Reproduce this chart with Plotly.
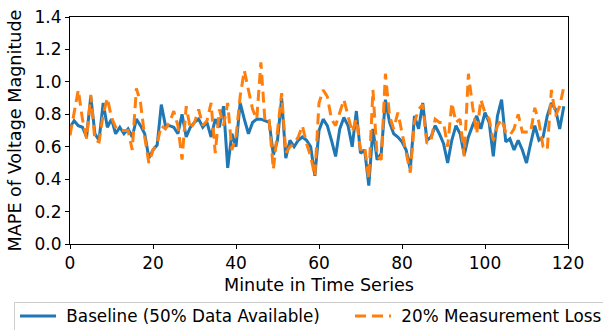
import plotly.graph_objects as go

minutes = list(range(120))

baseline = [
    0.72, 0.76, 0.73, 0.72, 0.66, 0.91, 0.68, 0.64, 0.87, 0.72,
    0.77, 0.68, 0.72, 0.68, 0.71, 0.66, 0.77, 0.73, 0.68, 0.53,
    0.58, 0.61, 0.86, 0.73, 0.73, 0.72, 0.68, 0.80, 0.66, 0.72,
    0.75, 0.77, 0.72, 0.75, 0.66, 0.77, 0.72, 0.85, 0.47, 0.68,
    0.60, 0.87, 0.77, 0.68, 0.75, 0.77, 0.77, 0.76, 0.75, 0.55,
    0.64, 0.90, 0.53, 0.64, 0.60, 0.64, 0.66, 0.64, 0.60, 0.42,
    0.70, 0.77, 0.73, 0.64, 0.54, 0.71, 0.78, 0.73, 0.60, 0.82,
    0.56, 0.58, 0.36, 0.71, 0.52, 0.56, 0.89, 0.75, 0.68, 0.66,
    0.63, 0.58, 0.46, 0.79, 0.71, 0.87, 0.64, 0.66, 0.73, 0.68,
    0.62, 0.50, 0.64, 0.73, 0.68, 0.55, 0.66, 0.73, 0.79, 0.71,
    0.81, 0.75, 0.54, 0.79, 0.89, 0.63, 0.65, 0.58, 0.64, 0.58,
    0.50, 0.62, 0.73, 0.64, 0.66, 0.79, 0.87, 0.83, 0.71, 0.85,
]

loss20 = [
    0.67, 0.80, 0.95, 0.77, 0.65, 0.92, 0.64, 0.63, 0.80, 0.90,
    0.78, 0.72, 0.70, 0.70, 0.70, 0.58, 0.96, 0.87, 0.66, 0.50,
    0.58, 0.62, 0.73, 0.71, 0.75, 0.82, 0.73, 0.52, 0.85, 0.71,
    0.75, 0.83, 0.73, 0.76, 0.87, 0.56, 0.83, 0.73, 0.87, 0.58,
    0.66, 0.91, 1.07, 0.95, 0.83, 0.77, 1.12, 0.75, 0.76, 0.46,
    0.68, 0.93, 0.56, 0.60, 0.62, 0.66, 0.73, 0.62, 0.54, 0.42,
    0.87, 0.95, 0.91, 0.77, 0.73, 0.81, 0.89, 0.79, 0.69, 0.77,
    0.58, 0.60, 0.40, 0.95, 0.54, 0.52, 1.05, 0.79, 0.71, 0.81,
    0.69, 0.58, 0.44, 0.75, 0.83, 0.86, 0.62, 0.64, 0.77, 0.75,
    0.75, 0.60, 0.87, 0.75, 0.77, 0.54, 1.05, 0.85, 0.68, 0.89,
    0.81, 0.77, 0.64, 0.73, 0.77, 0.69, 0.67, 0.71, 0.80, 0.69,
    0.69, 0.69, 0.84, 0.75, 0.60, 0.58, 0.95, 0.79, 0.85, 0.97,
]

x_ticks = [0, 20, 40, 60, 80, 100, 120]
y_ticks = [0.0, 0.2, 0.4, 0.6, 0.8, 1.0, 1.2, 1.4]

font_family = "DejaVu Sans"
W, H = 603, 330
ML, MR, MT, MB = 70, 35, 17, 86
PW = W - ML - MR
PH = H - MT - MB


def px_to_paper_x(px):
    return (px - ML) / PW


def px_to_paper_y(py):
    return (H - MB - py) / PH


fig = go.Figure()
fig.add_trace(go.Scatter(
    x=minutes, y=baseline, mode="lines",
    name="\u00a0Baseline (50% Data Available)",
    line=dict(color="#1f77b4", width=3),
    legend="legend",
))
fig.add_trace(go.Scatter(
    x=minutes, y=loss20, mode="lines",
    name="\u00a020% Measurement Loss",
    line=dict(color="#ff7f0e", width=3, dash="11px,6px"),
    legend="legend2",
))

axis_common = dict(
    showgrid=False, zeroline=False,
    showline=True, mirror=True, linecolor="black", linewidth=1,
    ticks="outside", ticklen=4, tickwidth=1, tickcolor="black",
    tickfont=dict(family=font_family, size=17, color="black"),
    title_font=dict(family=font_family, size=17.6, color="black"),
)

fig.update_xaxes(
    range=[0, 120], tickvals=x_ticks,
    title_text="Minute in Time Series", title_standoff=6,
    **axis_common,
)
fig.update_yaxes(
    range=[0, 1.4], tickvals=y_ticks, tickformat=".1f",
    title_text="MAPE of Voltage Magnitude", title_standoff=8,
    **axis_common,
)

legend_font = dict(family=font_family, size=16.8, color="black")
legend_common = dict(
    orientation="h", yanchor="middle", xanchor="left",
    borderwidth=0, bgcolor="rgba(0,0,0,0)",
    font=legend_font, itemwidth=36,
)

fig.update_layout(
    width=W, height=H,
    margin=dict(l=ML, r=MR, t=MT, b=MB, autoexpand=False),
    paper_bgcolor="white", plot_bgcolor="white",
    font=dict(family=font_family, size=17, color="black"),
    legend=dict(x=px_to_paper_x(15), y=px_to_paper_y(316), **legend_common),
    legend2=dict(x=px_to_paper_x(350), y=px_to_paper_y(316), **legend_common),
    showlegend=True,
    shapes=[dict(
        type="rect", xref="paper", yref="paper",
        x0=px_to_paper_x(14.5), x1=px_to_paper_x(640),
        y0=px_to_paper_y(302.5), y1=px_to_paper_y(360),
        line=dict(color="#cccccc", width=1),
        fillcolor="rgba(0,0,0,0)", layer="below",
    )],
)

fig.write_html(
    "out.html",
    config={"displayModeBar": False},
    post_script=(
        "document.documentElement.style.margin='0';"
        "document.body.style.margin='0';"
        "document.body.style.overflow='hidden';"
    ),
)
